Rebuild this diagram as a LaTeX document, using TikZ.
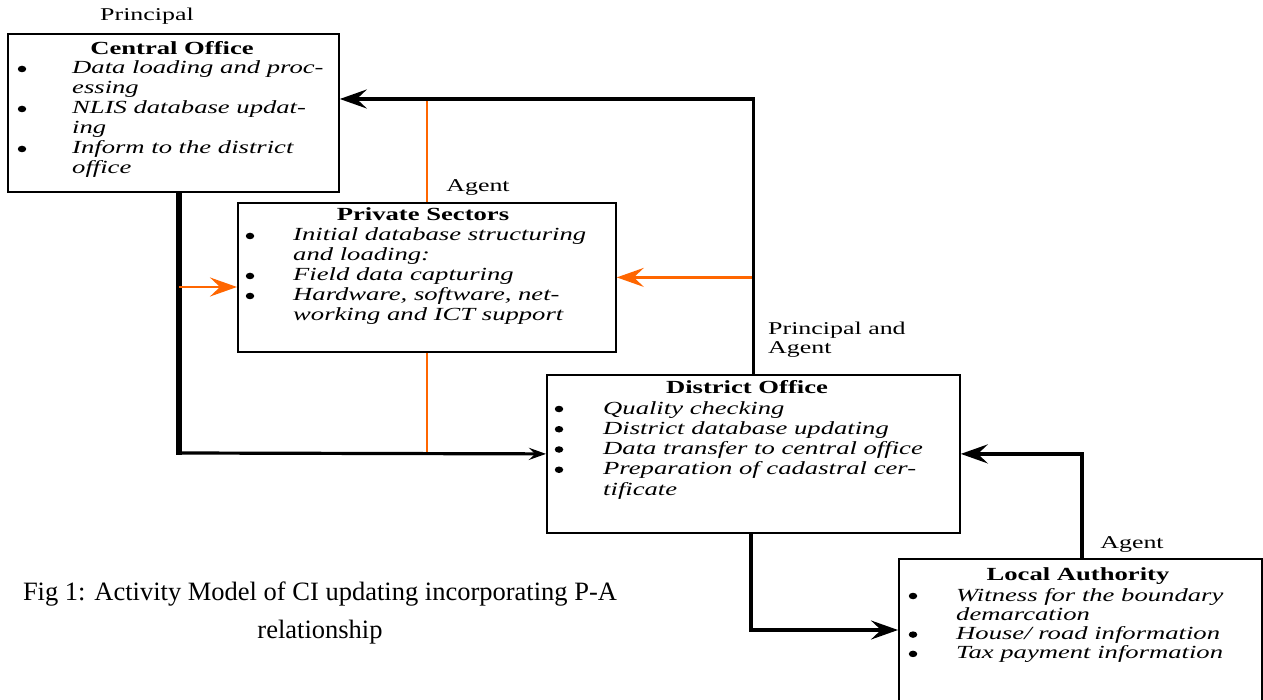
\documentclass[tikz,border=0pt]{standalone}
\usepackage{fontspec}
\setmainfont{Liberation Serif}
\newfontfamily\bxf[FakeStretch=1.44]{Liberation Serif}
\usetikzlibrary{arrows.meta,shapes.geometric}
\definecolor{orng}{RGB}{255,102,0}
\tikzset{
  box/.style={draw, line width=1.8pt, inner sep=0pt, anchor=north west},
  ttl/.style={font=\bxf\bfseries\fontsize{18.5}{20}\selectfont, anchor=base, inner sep=0pt},
  itm/.style={font=\bxf\itshape\fontsize{18.5}{20}\selectfont, anchor=base west, inner sep=0pt},
  bul/.style={ellipse, fill=black, inner sep=0pt, minimum width=8.5pt, minimum height=6.5pt},
  lbl/.style={font=\bxf\fontsize{18}{20}\selectfont, inner sep=0pt},
  captxt/.style={font=\fontsize{26.5}{30}\selectfont, anchor=base, inner sep=0pt},
  blk/.style={line width=3.2pt, black},
  org/.style={line width=2.8pt, orng},
  arr/.style={-{Stealth[length=27pt,width=19pt,inset=10pt]}},
  sarr/.style={-{Stealth[length=17pt,width=12pt,inset=6pt]}}
}
\begin{document}
\begin{tikzpicture}[x=1pt,y=-1pt]
\clip (0,0) rectangle (1263,700);
\fill[white] (0,0) rectangle (1263,700);

% boxes
\node[box, minimum width=331pt, minimum height=158pt] (co) at (7,33) {};
\node[box, minimum width=378pt, minimum height=149pt] (ps) at (237,202) {};
\node[box, minimum width=413pt, minimum height=158pt] (do) at (546,374) {};
\node[box, minimum width=363pt, minimum height=200pt] (la) at (898,558) {};

% labels
\node[lbl, anchor=base] (l1) at (147,21) {Principal};
\node[lbl, anchor=base] (l2) at (478,192) {Agent};
\node[lbl, anchor=base west] (l3) at (768,335) {Principal and};
\node[lbl, anchor=base west] (l4) at (768,354) {Agent};
\node[lbl, anchor=base] (l5) at (1132,548) {Agent};

% Central Office
\node[ttl] (co-t) at (172,55) {Central Office};
\foreach \t [count=\i] in {{Data loading and proc-},{essing},{NLIS database updat-},{ing},{Inform to the district},{office}}
  \node[itm] (co-l\i) at (72,{74+20*(\i-1)}) {\t};
\foreach \y [count=\i] in {74,114,154}
  \node[bul] (co-b\i) at (22,\y-5) {};

% Private Sectors
\node[ttl] (ps-t) at (423,221) {Private Sectors};
\foreach \t [count=\i] in {{Initial database structuring},{and loading:},{Field data capturing},{Hardware, software, net-},{working and ICT support}}
  \node[itm] (ps-l\i) at (293,{241+20*(\i-1)}) {\t};
\foreach \y [count=\i] in {241,281,301}
  \node[bul] (ps-b\i) at (250,\y-5) {};

% District Office
\node[ttl] (do-t) at (747,393) {District Office};
\foreach \t [count=\i] in {{Quality checking},{District database updating},{Data transfer to central office},{Preparation of cadastral cer-},{tificate}}
  \node[itm] (do-l\i) at (603,{414+20.25*(\i-1)}) {\t};
\foreach \y [count=\i] in {414,434.25,454.5,474.75}
  \node[bul] (do-b\i) at (559,\y-5) {};

% Local Authority
\node[ttl] (la-t) at (1078,580) {Local Authority};
\foreach \t [count=\i] in {{Witness for the boundary},{demarcation},{House/ road information},{Tax payment information}}
  \node[itm] (la-l\i) at (956,{601+19.3*(\i-1)}) {\t};
\foreach \y [count=\i] in {601,639.6,658.9}
  \node[bul] (la-b\i) at (913,\y-5) {};

% caption
\node[captxt] (cap1) at (320,600) {Fig 1: Activity Model of CI updating incorporating P-A};
\node[captxt] (cap2) at (320,638) {relationship};

% helper coordinates
\coordinate (t1) at (752,99);
\coordinate (t2) at (179,453);
\coordinate (t3) at (179,287);
\coordinate (t4) at (1082,453);
\coordinate (t5) at (751,630);

% connectors
\draw[org] (ps.north) -- (ps.north |- t1);
\draw[org, line width=2pt] (ps.south) -- (ps.south |- t2);
\draw[blk, arr] (do.north) |- (co.east |- t1);
\draw[org, arr] (ps.east -| t1) -- (ps.east);
\draw[line width=5.5pt] (co.south -| t2) -- ([yshift=-1.6pt]t2);
\draw[org, arr] (t3) -- (ps.west |- t3);
\draw[blk, sarr] (t2) -- (do.west);
\draw[blk, arr] (la.north -| t4) |- (do.east);
\draw[blk, arr] (do.south -| t5) |- (la.west |- t5);
\end{tikzpicture}
\end{document}
